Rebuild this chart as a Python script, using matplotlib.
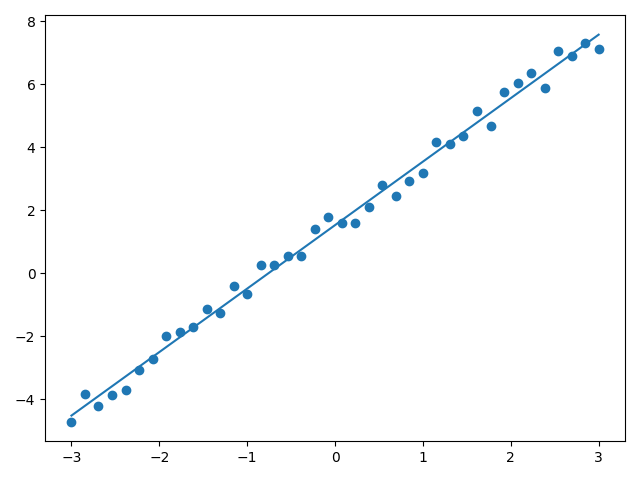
import numpy as np
import matplotlib
matplotlib.use("Agg")
import matplotlib.pyplot as plt

x = np.linspace(-3, 3, 40)
y = [-4.72, -3.82, -4.22, -3.85, -3.72, -3.06, -2.71, -1.98, -1.87, -1.72,
     -1.15, -1.25, -0.41, -0.67, 0.25, 0.25, 0.54, 0.54, 1.39, 1.80,
     1.60, 1.60, 2.11, 2.79, 2.44, 2.93, 3.17, 4.17, 4.11, 4.35,
     5.14, 4.67, 5.75, 6.04, 6.35, 5.89, 7.06, 6.91, 7.31, 7.13]

slope, intercept = np.polyfit(x, y, 1)

fig, ax = plt.subplots(figsize=(6.4, 4.8), dpi=100)
ax.scatter(x, y)
ax.plot(x, slope * x + intercept)
fig.tight_layout()
fig.savefig("out.png")
